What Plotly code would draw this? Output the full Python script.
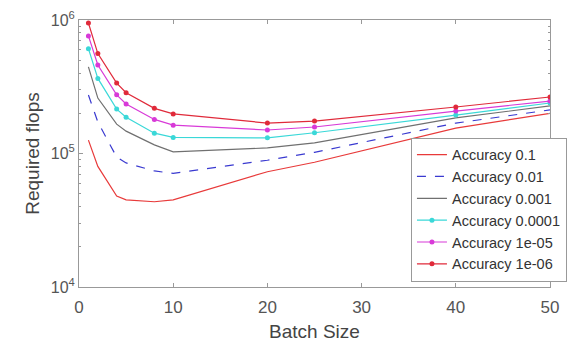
import plotly.graph_objects as go

batch = [1, 2, 4, 5, 8, 10, 20, 25, 40, 50]
acc_1e1 = [1.26e5, 8.0e4, 4.8e4, 4.5e4, 4.35e4, 4.5e4, 7.3e4, 8.6e4, 1.55e5, 2.0e5]
acc_1e2 = [2.74e5, 1.72e5, 9.4e4, 8.5e4, 7.4e4, 7.1e4, 8.9e4, 1.02e5, 1.69e5, 2.12e5]
acc_1e3 = [4.45e5, 2.6e5, 1.66e5, 1.47e5, 1.16e5, 1.03e5, 1.1e5, 1.2e5, 1.85e5, 2.27e5]
acc_1e4 = [6.1e5, 3.65e5, 2.15e5, 1.87e5, 1.42e5, 1.32e5, 1.31e5, 1.43e5, 1.94e5, 2.39e5]
acc_1e5 = [7.6e5, 4.6e5, 2.75e5, 2.35e5, 1.8e5, 1.63e5, 1.5e5, 1.58e5, 2.08e5, 2.47e5]
acc_1e6 = [9.5e5, 5.6e5, 3.37e5, 2.85e5, 2.18e5, 1.98e5, 1.69e5, 1.75e5, 2.23e5, 2.65e5]

names = ["Accuracy 0.1", "Accuracy 0.01", "Accuracy 0.001",
         "Accuracy 0.0001", "Accuracy 1e-05", "Accuracy 1e-06"]
series = [acc_1e1, acc_1e2, acc_1e3, acc_1e4, acc_1e5, acc_1e6]
colors = ["#e83a3a", "#3a3ad0", "#707070", "#3ad8d8", "#d83ad8", "#e02a3a"]
dashes = ["solid", "dash", "solid", "solid", "solid", "solid"]
markers = [False, False, False, True, True, True]

fig = go.Figure()
for name, ys, c, d, m in zip(names, series, colors, dashes, markers):
    fig.add_trace(go.Scatter(
        x=batch, y=ys, name=name,
        mode="lines+markers" if m else "lines",
        line=dict(color=c, width=1.2, dash=d),
        marker=dict(size=5, color=c, symbol="circle"),
    ))

font = "Liberation Sans, Arial, sans-serif"
minor_vals = [k * 10 ** e for e in (4, 5) for k in range(2, 10)]

fig.update_layout(
    width=577, height=342,
    margin=dict(l=79, r=27, t=20, b=55, autoexpand=False),
    paper_bgcolor="white", plot_bgcolor="white",
    font=dict(family=font, size=15, color="#444"),
    showlegend=True,
    legend=dict(
        x=1.036, y=0.02, xanchor="right", yanchor="bottom",
        bgcolor="white", bordercolor="#999", borderwidth=1,
        font=dict(size=14.5, color="#333"),
        tracegroupgap=0, itemwidth=30,
    ),
    xaxis=dict(
        range=[0, 50], tickvals=[0, 10, 20, 30, 40, 50],
        ticks="inside", ticklen=4, tickcolor="#999",
        showline=True, linecolor="#999", linewidth=1, mirror="ticks",
        showgrid=False, zeroline=False, automargin=False,
        tickfont=dict(size=17, color="#555"),
        ticklabelstandoff=5,
        title=dict(text="Batch Size", font=dict(size=19, color="#444")),
    ),
    yaxis=dict(
        type="log", range=[4, 6],
        tickvals=[1e4, 1e5, 1e6],
        ticktext=["10<sup>4</sup>", "10<sup>5</sup>", "10<sup>6</sup>"],
        ticks="inside", ticklen=4, tickcolor="#999",
        minor=dict(tickvals=minor_vals, ticks="inside", ticklen=2, tickcolor="#999"),
        showline=True, linecolor="#999", linewidth=1, mirror="ticks",
        showgrid=False, zeroline=False, automargin=False,
        tickfont=dict(size=16, color="#555"),
        title=dict(text="Required flops", font=dict(size=19, color="#444"), standoff=6),
    ),
)

fig.write_html("out.html")
